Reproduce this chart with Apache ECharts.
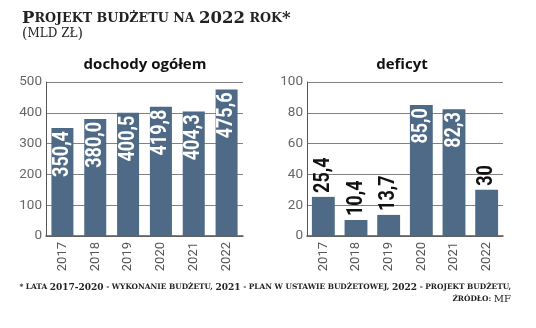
<!DOCTYPE html>
<html>
<head>
<meta charset="utf-8">
<script src="https://cdn.jsdelivr.net/npm/echarts@6/dist/echarts.min.js"></script>
<style>
  html, body { margin: 0; padding: 0; background: #fff; }
  #chart { width: 536px; height: 328px; }
</style>
</head>
<body>
<div id="chart"></div>
<script>
// Budget draft 2022 (bn PLN)
const years = ['2017', '2018', '2019', '2020', '2021', '2022'];
const revenue = [350.4, 380.0, 400.5, 419.8, 404.3, 475.6];
const deficit = [25.4, 10.4, 13.7, 85.0, 82.3, 30];
const deficitLabels = ['25,4', '10,4', '13,7', '85,0', '82,3', '30'];
const deficitInside = [false, false, false, true, true, false];
const revenueTicks = [0, 100, 200, 300, 400, 500];
const deficitTicks = [0, 20, 40, 60, 80, 100];

const BAR = '#4e6a86';
const GRID = '#828282';
const AXIS = '#555';
const SANS = 'Roboto, "DejaVu Sans", sans-serif';
const SERIF = '"DejaVu Serif", "Liberation Serif", serif';
const VALUE_FONT = 'bold 22px Roboto, "DejaVu Sans", sans-serif';
const SQUEEZE = 0.82;   // narrow the value labels along their reading direction

const fmt = v => v.toFixed(1).replace('.', ',');

function yAxis(gridIndex, ticks) {
  return {
    type: 'value', gridIndex,
    min: ticks[0], max: ticks[ticks.length - 1], interval: ticks[1] - ticks[0],
    axisLine: { show: true, lineStyle: { color: AXIS, width: 1 } },
    axisTick: { show: false },
    splitLine: { lineStyle: { color: GRID, width: 1 } },
    axisLabel: { color: '#666', fontFamily: SANS, fontSize: 13.5, margin: 4 }
  };
}
function xAxis(gridIndex) {
  return {
    type: 'category', gridIndex, data: years,
    axisLine: { lineStyle: { color: AXIS, width: 1.5 } },
    axisTick: { show: false },
    axisLabel: { color: '#555', fontFamily: SANS, fontSize: 13, rotate: 90, margin: 6 }
  };
}

// Vertical value label anchored at the bar top, reading upwards: inside the bar
// (white, its end just under the top) or above the bar (dark, its start just over the top).
function valueLabel(api, text, inside) {
  const p = api.coord([api.value(0), api.value(1)]);
  return {
    type: 'text',
    x: p[0], y: inside ? p[1] + 3 : p[1] - 4,
    rotation: Math.PI / 2, scaleX: SQUEEZE,
    z2: 100,
    style: {
      text, font: VALUE_FONT,
      fill: inside ? '#fff' : '#111',
      align: inside ? 'right' : 'left', verticalAlign: 'middle'
    }
  };
}

const chart = echarts.init(document.getElementById('chart'), null, { renderer: 'canvas' });
chart.setOption({
  animation: false,
  backgroundColor: '#fff',
  title: [
    {
      left: 22, top: 10, padding: 0,
      text: '{c|P}{s|ROJEKT BUDŻETU NA }{c|2022}{s| ROK}{c|*}',
      textStyle: {
        rich: {
          c: { fontFamily: SERIF, fontWeight: 'bold', fontSize: 16.5, color: '#222' },
          s: { fontFamily: SERIF, fontWeight: 'bold', fontSize: 12.7, color: '#222' }
        }
      }
    },
    {
      left: 22, top: 27, padding: 0,
      text: '{p|(}{s|MLD ZŁ}{p|)}',
      textStyle: {
        fontWeight: 'normal',
        rich: {
          p: { fontFamily: SERIF, fontWeight: 'normal', fontSize: 14, color: '#222' },
          s: { fontFamily: SERIF, fontWeight: 'normal', fontSize: 12, color: '#222' }
        }
      }
    },
    {
      left: 145, top: 57, padding: 0, textAlign: 'center',
      text: 'dochody ogółem',
      textStyle: { fontFamily: '"Open Sans", sans-serif', fontWeight: 'bold', fontSize: 15, color: '#111' }
    },
    {
      left: 402, top: 57, padding: 0, textAlign: 'center',
      text: 'deficyt',
      textStyle: { fontFamily: '"Open Sans", sans-serif', fontWeight: 'bold', fontSize: 15, color: '#111' }
    }
  ],
  graphic: [
    {
      type: 'text', right: 25, top: 283,
      style: {
        text: '{a|* LATA }{n|2017-2020}{a| - WYKONANIE BUDŻETU, }{n|2021}{a| - PLAN W USTAWIE BUDŻETOWEJ, }{n|2022}{a| - PROJEKT BUDŻETU,}',
        rich: {
          a: { fontFamily: SERIF, fontWeight: 'bold', fontSize: 7.4, fill: '#222' },
          n: { fontFamily: SERIF, fontWeight: 'bold', fontSize: 9, fill: '#222' }
        }
      }
    },
    {
      type: 'text', right: 25, top: 294,
      style: {
        text: '{a|ŹRÓDŁO: }{n|MF}',
        rich: {
          a: { fontFamily: SERIF, fontWeight: 'bold', fontSize: 7.4, fill: '#222' },
          n: { fontFamily: SERIF, fontSize: 10, fill: '#222' }
        }
      }
    }
  ],
  grid: [
    { left: 46, top: 82, width: 197, height: 154 },
    { left: 307, top: 82, width: 196, height: 154 }
  ],
  xAxis: [xAxis(0), xAxis(1)],
  yAxis: [yAxis(0, revenueTicks), yAxis(1, deficitTicks)],
  series: [
    {
      type: 'bar', xAxisIndex: 0, yAxisIndex: 0,
      barCategoryGap: '33%',
      itemStyle: { color: BAR },
      data: revenue
    },
    {
      type: 'bar', xAxisIndex: 1, yAxisIndex: 1,
      barCategoryGap: '30%',
      itemStyle: { color: BAR },
      data: deficit
    },
    {
      type: 'custom', xAxisIndex: 0, yAxisIndex: 0, silent: true, z: 10,
      data: revenue.map((v, i) => [i, v]),
      renderItem: (params, api) => valueLabel(api, fmt(api.value(1)), true)
    },
    {
      type: 'custom', xAxisIndex: 1, yAxisIndex: 1, silent: true, z: 10,
      data: deficit.map((v, i) => [i, v]),
      renderItem: (params, api) =>
        valueLabel(api, deficitLabels[params.dataIndex], deficitInside[params.dataIndex])
    }
  ]
});
</script>
</body>
</html>
